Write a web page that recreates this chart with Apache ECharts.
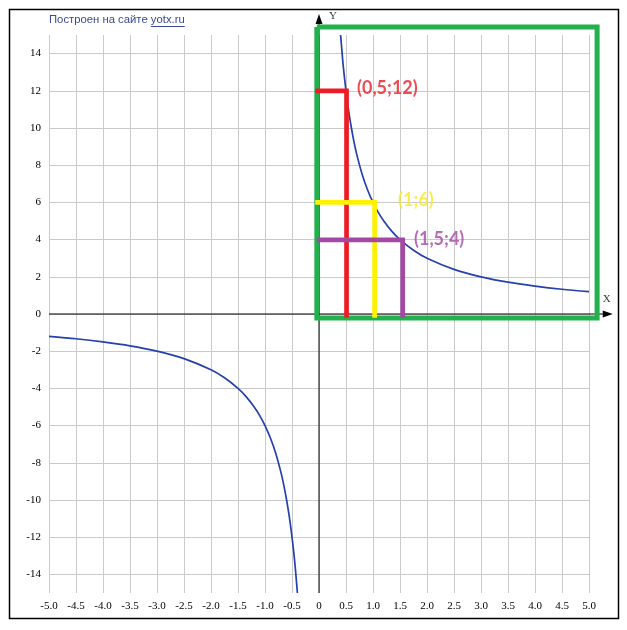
<!DOCTYPE html>
<html><head><meta charset="utf-8">
<script src="https://cdn.jsdelivr.net/npm/echarts@6/dist/echarts.min.js"></script>
<style>html,body{margin:0;padding:0;background:#fff}#c{width:627px;height:630px}</style>
</head><body><div id="c"></div>
<script>
// ---- data ----
const titleText = 'Построен на сайте ';
const titleLink = 'yotx.ru';
const xMin = -5, xMax = 5, xStep = 0.5;
const yMin = -15, yMax = 15;
const yTickLabels = [-14, -12, -10, -8, -6, -4, -2, 0, 2, 4, 6, 8, 10, 12, 14];
// hyperbola branches
const curvePosX = [0.4, 0.42, 0.45, 0.5, 0.55, 0.6, 0.65, 0.7, 0.8, 0.9, 1.0, 1.1, 1.2, 1.35, 1.5, 1.75, 2.0, 2.5, 3.0, 3.5, 4.0, 4.5, 5.0];
const curvePosY = [15, 14.3, 13.3, 12, 10.9, 10, 9.23, 8.57, 7.5, 6.67, 6, 5.45, 5, 4.44, 4, 3.43, 3, 2.4, 2, 1.71, 1.5, 1.33, 1.2];
const curveNegX = [-5.0, -4.5, -4.0, -3.5, -3.0, -2.5, -2.0, -1.75, -1.5, -1.35, -1.2, -1.1, -1.0, -0.9, -0.8, -0.7, -0.65, -0.6, -0.55, -0.5, -0.45, -0.42, -0.4];
const curveNegY = [-1.2, -1.33, -1.5, -1.71, -2, -2.4, -3, -3.43, -4, -4.44, -5, -5.45, -6, -6.67, -7.5, -8.57, -9.23, -10, -10.9, -12, -13.3, -14.3, -15];
// marked points
const pointX = [0.5, 1.0, 1.5];
const pointY = [12, 6, 4];
const pointLabels = ['(0,5;12)', '(1;6)', '(1,5;4)'];
// hand-drawn annotation paths (data units)
const greenBox = [[-0.04, 15.43], [5.15, 15.43], [5.15, -0.21], [-0.04, -0.21], [-0.04, 15.43]];
const redPath = [[-0.07, 12], [0.51, 12], [0.51, -0.2]];
const yellowPath = [[-0.07, 6], [1.03, 6], [1.03, -0.2]];
const purplePath = [[-0.04, 3.98], [1.55, 3.98], [1.55, -0.2]];
// axis lines (start, arrow tip)
const xAxisLine = [[-5, 0], [5.44, 0]];
const yAxisLine = [[0, -15], [0, 16.13]];
const axisLetters = [{pos: [5.33, 0.8], text: 'X'}, {pos: [0.26, 16.0], text: 'Y'}];

// ---- colours ----
const cGreen = '#22b14c', cRed = '#ed1c24', cYellow = '#fff200', cPurple = '#a349a4', cBlue = '#2541ab', cGrid = '#cacaca';
const titleColor = '#3a4a94';
const titleFont = '11.3px "Liberation Sans", Arial, sans-serif';

const toPairs = (xs, ys) => xs.map((x, i) => [x, ys[i]]);
const chart = echarts.init(document.getElementById('c'), null, {renderer: 'canvas'});

function pathSeries(points, color, width, z) {
  return {type: 'custom', coordinateSystem: 'cartesian2d', clip: false, z: z, silent: true, data: [[points[0][0], points[0][1]]],
    renderItem: (params, api) => ({type: 'polyline', shape: {points: points.map(p => api.coord(p))},
      style: {stroke: color, lineWidth: width, fill: null, lineJoin: 'miter', lineCap: 'butt'}})};
}
function arrowSeries(points, dir) {
  return {type: 'custom', coordinateSystem: 'cartesian2d', clip: false, z: 6, silent: true, data: [[points[0][0], points[0][1]]],
    renderItem: (params, api) => {
      const a = api.coord(points[0]);
      const t = api.coord(points[1]);
      let tri, end;
      if (dir === 'right') { tri = [[t[0], t[1]], [t[0] - 10, t[1] - 3.5], [t[0] - 10, t[1] + 3.5]]; end = [t[0] - 6, t[1]]; }
      else { tri = [[t[0], t[1]], [t[0] - 3.5, t[1] + 10], [t[0] + 3.5, t[1] + 10]]; end = [t[0], t[1] + 6]; }
      return {type: 'group', children: [
        {type: 'line', shape: {x1: a[0], y1: a[1], x2: end[0], y2: end[1]}, style: {stroke: '#000', lineWidth: 1}},
        {type: 'polygon', shape: {points: tri}, style: {fill: '#000'}}
      ]};
    }};
}

// underline position for the link in the title
const mctx = document.createElement('canvas').getContext('2d');
mctx.font = titleFont;
const wPrefix = mctx.measureText(titleText).width;
const wLink = mctx.measureText(titleLink).width;
const titleLeft = 49;

const labelOffsets = [[11, -3], [25, -2], [14, 0]];
const labelColors = ['#e61f29', '#f9e72a', cPurple];

const option = {
  animation: false,
  backgroundColor: '#fff',
  title: {
    text: '{a|' + titleText + '}{b|' + titleLink + '}',
    left: titleLeft, top: 14, padding: 0,
    textStyle: {rich: {
      a: {fontFamily: '"Liberation Sans", Arial, sans-serif', fontSize: 11.3, fontWeight: 'normal', color: titleColor},
      b: {fontFamily: '"Liberation Sans", Arial, sans-serif', fontSize: 11.3, fontWeight: 'normal', color: titleColor}
    }}
  },
  graphic: [
    {type: 'rect', shape: {x: 9.5, y: 9.5, width: 609, height: 609}, style: {fill: 'none', stroke: '#000', lineWidth: 1.5}, silent: true},
    {type: 'line', shape: {x1: titleLeft + wPrefix, y1: 26.5, x2: titleLeft + wPrefix + wLink, y2: 26.5}, style: {stroke: titleColor, lineWidth: 1}, silent: true}
  ],
  grid: {left: 49, right: 38, top: 35, bottom: 37},
  xAxis: {
    type: 'value', min: xMin, max: xMax, interval: xStep,
    axisLine: {show: false}, axisTick: {show: false},
    splitLine: {show: true, lineStyle: {color: cGrid, width: 1}},
    axisLabel: {margin: 8, fontFamily: '"Liberation Serif", serif', fontSize: 11, color: '#000',
      formatter: v => v === 0 ? '0' : v.toFixed(1)}
  },
  yAxis: {
    type: 'value', min: yMin, max: yMax,
    axisLine: {show: false}, axisTick: {show: false},
    splitLine: {show: false},
    axisLabel: {margin: 8, customValues: yTickLabels, fontFamily: '"Liberation Serif", serif', fontSize: 11, color: '#000'}
  },
  series: [
    {type: 'line', data: [], z: 1, silent: true,
      markLine: {silent: true, symbol: 'none', label: {show: false}, animation: false,
        lineStyle: {color: cGrid, width: 1, type: 'solid'},
        data: yTickLabels.map(v => ({yAxis: v}))}},
    arrowSeries(xAxisLine, 'right'),
    arrowSeries(yAxisLine, 'up'),
    {type: 'line', data: toPairs(curvePosX, curvePosY), symbol: 'none', smooth: 0.3, clip: true, z: 7,
      lineStyle: {color: cBlue, width: 1.7}, silent: true},
    {type: 'line', data: toPairs(curveNegX, curveNegY), symbol: 'none', smooth: 0.3, clip: true, z: 7,
      lineStyle: {color: cBlue, width: 1.7}, silent: true},
    pathSeries(greenBox, cGreen, 5, 8),
    pathSeries(redPath, cRed, 4.7, 9),
    pathSeries(yellowPath, cYellow, 4.7, 9),
    pathSeries(purplePath, cPurple, 4.7, 9),
    {type: 'scatter', symbolSize: 0, clip: false, z: 10, silent: true,
      data: pointX.map((x, i) => ({value: [x, pointY[i]],
        label: {show: true, position: 'right', distance: 0, offset: labelOffsets[i], formatter: pointLabels[i],
          fontFamily: 'Lato, sans-serif', fontWeight: 'bold', fontSize: 18, color: labelColors[i]}}))},
    {type: 'scatter', symbolSize: 0, clip: false, z: 10, silent: true,
      data: axisLetters.map(a => ({value: a.pos,
        label: {show: true, position: 'inside', formatter: a.text, fontFamily: '"Liberation Serif", serif', fontSize: 11, color: '#000'}}))}
  ]
};
chart.setOption(option);
</script></body></html>
